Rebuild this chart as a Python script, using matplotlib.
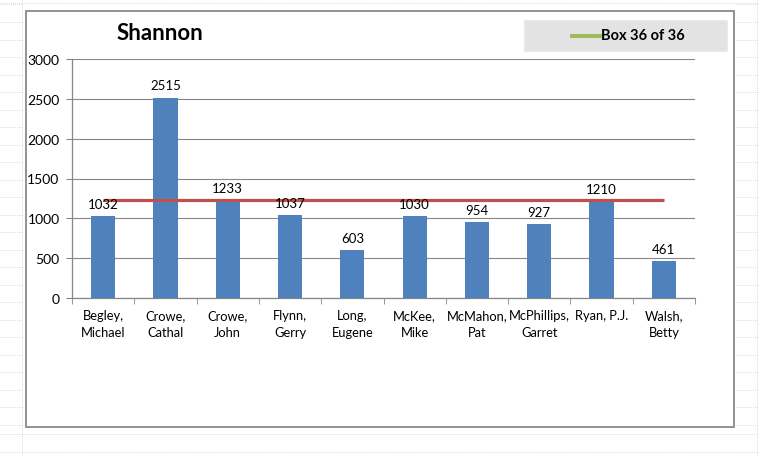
import matplotlib
matplotlib.use("Agg")
import matplotlib.pyplot as plt
from matplotlib.patches import Rectangle
from matplotlib.lines import Line2D

categories = ["Begley,\nMichael", "Crowe,\nCathal", "Crowe,\nJohn", "Flynn,\nGerry",
              "Long,\nEugene", "McKee,\nMike", "McMahon,\nPat", "McPhillips,\nGarret",
              "Ryan, P.J.", "Walsh,\nBetty"]
values = [1032, 2515, 1233, 1037, 603, 1030, 954, 927, 1210, 461]
reference_level = 1225
title = "Shannon"
legend_label = "Box 36 of 36"
y_ticks = [0, 500, 1000, 1500, 2000, 2500, 3000]

plt.rcParams['font.family'] = ['Lato', 'DejaVu Sans']

W, H = 758, 456
fig = plt.figure(figsize=(W / 100, H / 100), dpi=100)

def fx(px):
    return px / W

def fy(py):
    return 1 - py / H

dot = dict(color="#d0d0d0", lw=0.6, linestyle=(0, (1, 1.5)), zorder=-20)
# Background spreadsheet dotted gridlines
for y in [5, 23, 41, 58, 76, 93, 111, 128, 146, 163, 181, 198, 216, 233, 251, 268, 286,
          303, 321, 338, 356, 373, 391, 408, 426]:
    fig.add_artist(Line2D([0, fx(22)], [fy(y), fy(y)], **dot))
    fig.add_artist(Line2D([fx(736), 1], [fy(y), fy(y)], **dot))
for y in [4, 435, 453]:
    fig.add_artist(Line2D([0, 1], [fy(y), fy(y)], **dot))
for xx in [22, 757]:
    fig.add_artist(Line2D([fx(xx), fx(xx)], [0, 1], **dot))

# Chart frame
fig.add_artist(Rectangle((fx(26), fy(428)), fx(734) - fx(26), fy(12) - fy(428),
                         transform=fig.transFigure, facecolor="white",
                         edgecolor="#8a8a8a", lw=1.3, zorder=-10))

ax = fig.add_axes([fx(72), fy(299), fx(695) - fx(72), fy(60) - fy(299)])
ax.set_facecolor("none")
x = list(range(len(categories)))
ax.bar(x, values, width=0.39, color="#4F81BD", zorder=3)
ax.plot(x, [reference_level] * len(x), color="#C0504D", lw=2.3, zorder=4,
        solid_capstyle="butt")
for xi, v in zip(x, values):
    ax.annotate(str(v), (xi, v), xytext=(0, 4.5), textcoords="offset points",
                ha="center", va="bottom", fontsize=9.5, color="#000000", zorder=5)

ax.set_xlim(-0.5, len(categories) - 0.5)
ax.set_ylim(0, 3000)
ax.set_yticks(y_ticks)
ax.set_yticklabels([str(t) for t in y_ticks], fontsize=10)
ax.yaxis.grid(True, color="#868686", lw=0.8, zorder=0)
ax.set_axisbelow(True)
ax.set_xticks(x)
ax.set_xticklabels(categories, fontsize=9.3, linespacing=1.5)
ax.set_xticks([i - 0.5 for i in range(len(categories) + 1)], minor=True)
ax.tick_params(axis="x", which="major", length=0, pad=8)
ax.tick_params(axis="x", which="minor", length=4, color="#868686", direction="out")
ax.tick_params(axis="y", length=4, color="#868686", pad=5)
for s in ["top", "right"]:
    ax.spines[s].set_visible(False)
for s in ["left", "bottom"]:
    ax.spines[s].set_color("#868686")
    ax.spines[s].set_linewidth(0.9)

# Title
fig.text(fx(160), fy(33), title, fontsize=16, fontweight="bold", ha="center", va="center")

# Legend box
fig.add_artist(Rectangle((fx(524), fy(52)), fx(727) - fx(524), fy(21) - fy(52),
                         transform=fig.transFigure, facecolor="#E3E3E3",
                         edgecolor="#EBEBEB", lw=0.8))
fig.add_artist(Line2D([fx(572), fx(600)], [fy(36.5), fy(36.5)], color="#9BBB59", lw=2.8))
fig.text(fx(601), fy(36.5), legend_label, fontsize=10.5, fontweight="bold",
         ha="left", va="center")

fig.savefig("out.png", dpi=100)
